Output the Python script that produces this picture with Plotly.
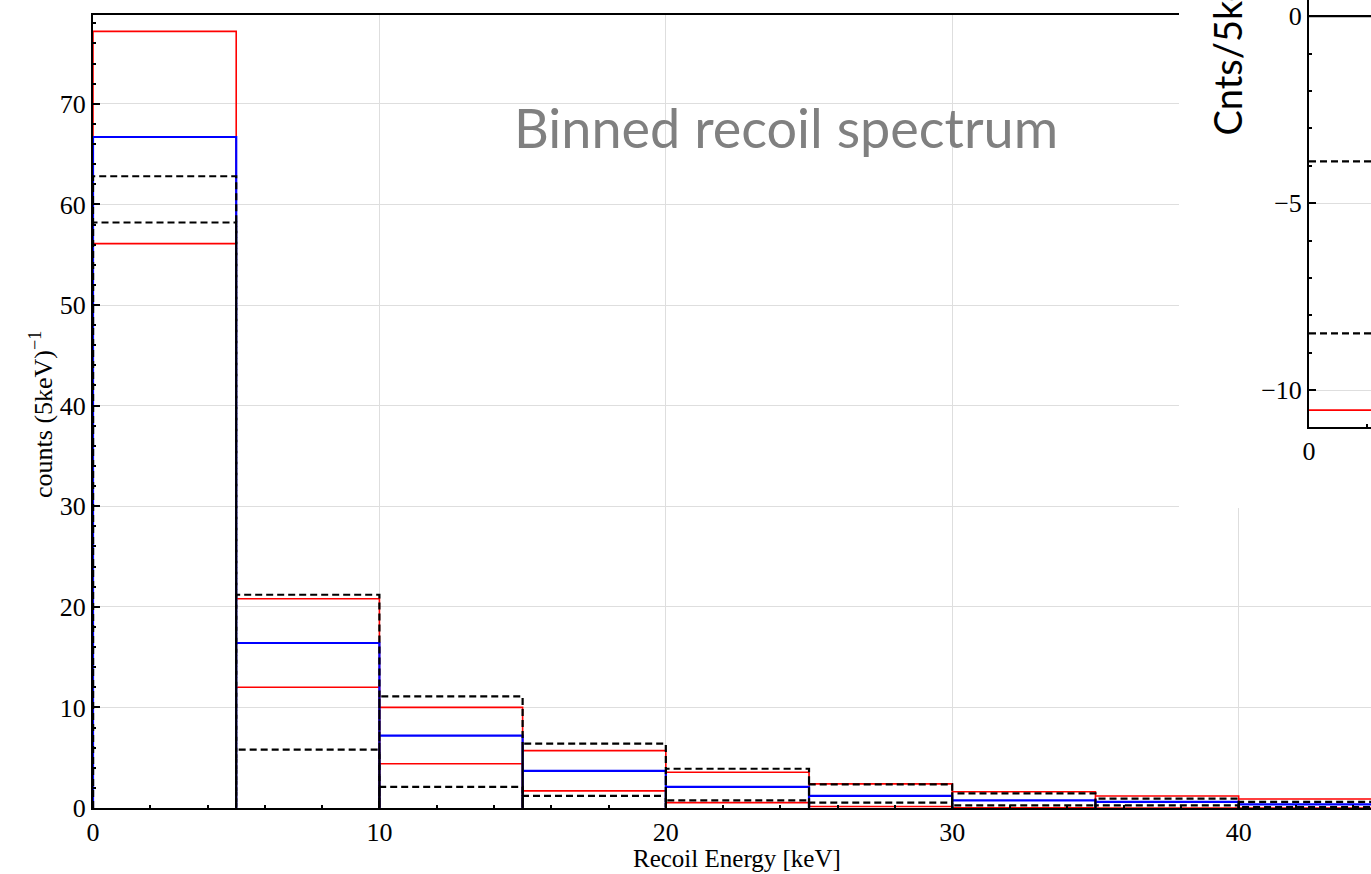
import plotly.graph_objects as go

# ---------------- data ----------------
bin_edges = [0, 5, 10, 15, 20, 25, 30, 35, 40, 45]
red_upper = [77.2, 20.8, 10.0, 5.7, 3.55, 2.4, 1.62, 1.19, 0.89]
red_lower = [56.1, 12.0, 4.4, 1.7, 0.53, 0.15, 0.03, 0.0, 0.0]
blue_mid = [66.7, 16.4, 7.2, 3.7, 2.1, 1.2, 0.75, 0.6, 0.37]
dash_upper = [62.8, 21.2, 11.1, 6.4, 3.9, 2.35, 1.45, 0.93, 0.6]
dash_lower = [58.2, 5.8, 2.1, 1.2, 0.76, 0.53, 0.27, 0.27, 0.1]

inset_x = [0, 10]
inset_black = [0.0, 0.0]
inset_dash_a = [-3.88, -3.88]
inset_dash_b = [-8.48, -8.48]
inset_red = [-10.53, -10.53]

x_ticks = [0, 10, 20, 30, 40]
y_ticks = [0, 10, 20, 30, 40, 50, 60, 70]
inset_y_ticks = [0, -5, -10]

# ---------------- helpers ----------------
def outline(edges, vals):
    xs, ys = [], []
    for i, v in enumerate(vals):
        xs += [edges[i], edges[i], edges[i + 1], edges[i + 1]]
        ys += [0, v, v, 0]
    return xs, ys

fig = go.Figure()

series = [
    (red_upper, dict(color="#ff0000", width=1.6)),
    (red_lower, dict(color="#ff0000", width=1.6)),
    (blue_mid, dict(color="#0000ff", width=2.2)),
    (dash_upper, dict(color="#000000", width=2.2, dash="7px,4px")),
    (dash_lower, dict(color="#000000", width=2.2, dash="7px,4px")),
]
for vals, ln in series:
    xs, ys = outline(bin_edges, vals)
    fig.add_trace(go.Scatter(x=xs, y=ys, mode="lines", line=ln,
                             showlegend=False, hoverinfo="skip"))

# white cover subplot (behind inset)
fig.add_trace(go.Scatter(x=[], y=[], xaxis="x2", yaxis="y2", showlegend=False))

# inset lines
for vals, ln in [
    (inset_black, dict(color="#000000", width=2.2)),
    (inset_dash_a, dict(color="#000000", width=2.2, dash="7px,4px")),
    (inset_dash_b, dict(color="#000000", width=2.2, dash="7px,4px")),
    (inset_red, dict(color="#ff0000", width=1.8)),
]:
    fig.add_trace(go.Scatter(x=inset_x, y=vals, mode="lines", line=ln,
                             xaxis="x3", yaxis="y3", showlegend=False,
                             hoverinfo="skip"))

serif = "Liberation Serif"
W, H = 1371, 874
L, B = 93, 66
PW, PH = W - L, H - B  # 1278, 808

def fx(px):
    return (px - L) / PW

def fy(py):
    return (PH - py) / PH

tick_font = dict(family=serif, size=26, color="black")

fig.update_layout(
    width=W, height=H,
    margin=dict(l=L, r=0, t=0, b=B),
    paper_bgcolor="white", plot_bgcolor="white",
    font=dict(family=serif, size=26, color="black"),
    xaxis=dict(
        domain=[0, 1], range=[0, (W - 93.5) / 28.63],
        tickvals=x_ticks, ticks="inside", ticklen=7, tickwidth=1.5,
        tickcolor="black",
        minor=dict(dtick=2, tick0=0, ticks="inside", ticklen=3,
                   tickwidth=1.5, tickcolor="black", showgrid=False),
        showgrid=True, gridcolor="#dedede", gridwidth=1,
        showline=True, linecolor="black", linewidth=2, mirror=True,
        zeroline=False, tickfont=tick_font, anchor="y",
    ),
    yaxis=dict(
        domain=[0, fy(15)], range=[0, 793 / 10.06],
        tickvals=y_ticks, ticks="inside", ticklen=7, tickwidth=1.5,
        tickcolor="black",
        minor=dict(dtick=2, tick0=0, ticks="inside", ticklen=3,
                   tickwidth=1.5, tickcolor="black", showgrid=False),
        showgrid=True, gridcolor="#dedede", gridwidth=1,
        showline=True, linecolor="black", linewidth=2,
        zeroline=False, tickfont=tick_font, anchor="x",
    ),
    xaxis2=dict(domain=[fx(1179), 1], anchor="y2", visible=False,
                range=[0, 1]),
    yaxis2=dict(domain=[fy(508), 1], anchor="x2", visible=False,
                range=[0, 1]),
    xaxis3=dict(
        domain=[fx(1309), 1], anchor="y3", range=[0, 5.35],
        tickvals=[0], ticks="inside", ticklen=7, tickwidth=1.5,
        tickcolor="black",
        minor=dict(dtick=5, tick0=0, ticks="inside", ticklen=3,
                   tickwidth=1.5, tickcolor="black", showgrid=False),
        showgrid=False, zeroline=False,
        showline=True, linecolor="black", linewidth=2,
        tickfont=tick_font,
    ),
    yaxis3=dict(
        domain=[fy(427), 1], anchor="x3", range=[-10.98, 0.43],
        tickvals=inset_y_ticks, ticks="inside", ticklen=7, tickwidth=1.5,
        tickcolor="black",
        minor=dict(dtick=1, tick0=0, ticks="inside", ticklen=3,
                   tickwidth=1.5, tickcolor="black", showgrid=False),
        showgrid=True, gridcolor="#dedede", zeroline=False,
        showline=True, linecolor="black", linewidth=2,
        tickfont=tick_font,
    ),
    annotations=[
        dict(text="Binned recoil spectrum", xref="paper", yref="paper",
             x=fx(786), y=fy(127), xanchor="center", yanchor="middle",
             showarrow=False,
             font=dict(family="Lato", size=54, color="#808080")),
        dict(text="Recoil Energy [keV]", xref="paper", yref="paper",
             x=fx(737), y=fy(874), xanchor="center", yanchor="bottom",
             showarrow=False, font=dict(family=serif, size=25)),
        dict(text="counts (5keV)<sup>\u22121</sup>", xref="paper", yref="paper",
             x=fx(41), y=fy(415), xanchor="center", yanchor="middle",
             textangle=-90, showarrow=False,
             font=dict(family=serif, size=26)),
        dict(text="Cnts/5keV", xref="paper", yref="paper",
             x=fx(1226), y=fy(138), xanchor="center", yanchor="bottom",
             textangle=-90, showarrow=False,
             font=dict(family="Lato", size=38, color="black")),
    ],
)

fig.write_html("out.html")
